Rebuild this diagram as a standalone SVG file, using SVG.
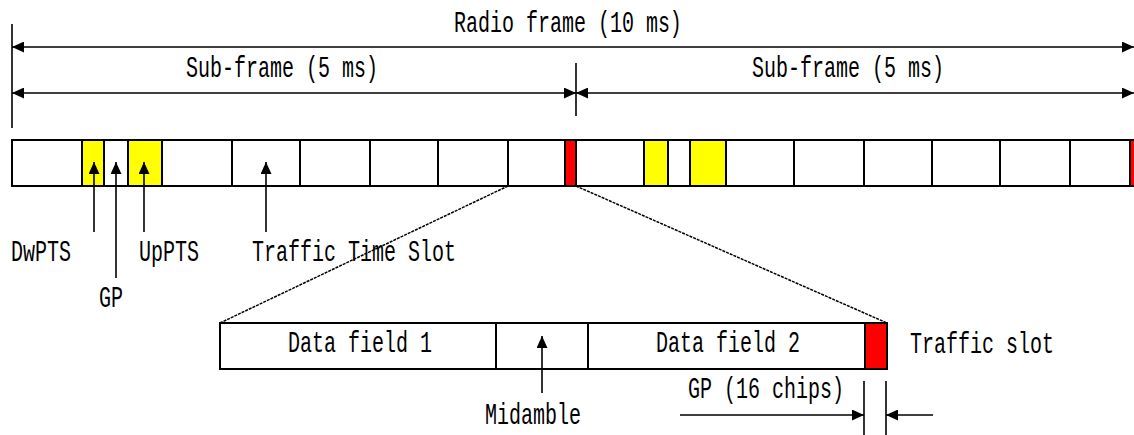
<svg xmlns="http://www.w3.org/2000/svg" width="1134" height="435" viewBox="0 0 1134 435">
<style>
.t{font-family:"Liberation Mono","Courier New",monospace;font-size:20px;fill:#000}
.box{stroke:#000;stroke-width:2}
.w{fill:#fff}
.y{fill:#ffff00}
.r{fill:#ff0000}
.ln{stroke:#000;stroke-width:1.6;fill:none}
.ar{stroke:#000;stroke-width:1.6;fill:none;marker-end:url(#ah)}
.ar2{stroke:#000;stroke-width:1.6;fill:none;marker-start:url(#ah);marker-end:url(#ah)}
.dash{stroke:#000;stroke-width:1.5;fill:none;stroke-dasharray:3 1}
</style>
<defs>
<marker id="ah" markerUnits="userSpaceOnUse" markerWidth="12" markerHeight="11" refX="12" refY="5.5" orient="auto-start-reverse" viewBox="0 0 12 11">
<path d="M0,0 L12,5.5 L0,11 z" fill="#000"/>
</marker>
</defs>
<rect width="1134" height="435" fill="#fff"/>

<g id="radio-frame-bar">
<g id="s0"><rect class="box w" x="12" y="140" width="70" height="46"/></g>
<g id="dwpts"><rect class="box y" x="82" y="140" width="22" height="46"/></g>
<g id="gp1"><rect class="box w" x="104" y="140" width="24" height="46"/></g>
<g id="uppts"><rect class="box y" x="128" y="140" width="34" height="46"/></g>
<g id="ts1"><rect class="box w" x="162" y="140" width="70" height="46"/></g>
<g id="ts2"><rect class="box w" x="232" y="140" width="68" height="46"/></g>
<g id="ts3"><rect class="box w" x="300" y="140" width="70" height="46"/></g>
<g id="ts4"><rect class="box w" x="370" y="140" width="68" height="46"/></g>
<g id="ts5"><rect class="box w" x="438" y="140" width="70" height="46"/></g>
<g id="ts6"><rect class="box w" x="508" y="140" width="57" height="46"/></g>
<g id="red1"><rect class="box r" x="565" y="140" width="11" height="46"/></g>
<g id="s0b"><rect class="box w" x="576" y="140" width="68" height="46"/></g>
<g id="dwpts2"><rect class="box y" x="644" y="140" width="24" height="46"/></g>
<g id="gp2"><rect class="box w" x="668" y="140" width="22" height="46"/></g>
<g id="uppts2"><rect class="box y" x="690" y="140" width="36" height="46"/></g>
<g id="ts1b"><rect class="box w" x="726" y="140" width="68" height="46"/></g>
<g id="ts2b"><rect class="box w" x="794" y="140" width="70" height="46"/></g>
<g id="ts3b"><rect class="box w" x="864" y="140" width="68" height="46"/></g>
<g id="ts4b"><rect class="box w" x="932" y="140" width="68" height="46"/></g>
<g id="ts5b"><rect class="box w" x="1000" y="140" width="70" height="46"/></g>
<g id="ts6b"><rect class="box w" x="1070" y="140" width="60" height="46"/></g>
<g id="red2"><rect class="box r" x="1130" y="140" width="10" height="46"/></g>
</g>

<g id="traffic-slot-detail">
<g id="data1"><rect class="box w" x="220" y="323" width="276" height="46"/>
<text class="t" transform="translate(288,352) scale(1,1.45)">Data field 1</text></g>
<g id="midamble"><rect class="box w" x="496" y="323" width="92" height="46"/></g>
<g id="data2"><rect class="box w" x="588" y="323" width="277" height="46"/>
<text class="t" transform="translate(656,352) scale(1,1.45)">Data field 2</text></g>
<g id="gp-slot"><rect class="box r" x="865" y="323" width="22" height="46"/></g>
</g>

<g id="labels">
<text class="t" transform="translate(454,32) scale(1,1.45)">Radio frame (10 ms)</text>
<text class="t" transform="translate(186,77) scale(1,1.45)">Sub-frame (5 ms)</text>
<text class="t" transform="translate(752,77) scale(1,1.45)">Sub-frame (5 ms)</text>
<text class="t" transform="translate(11,261) scale(1,1.45)">DwPTS</text>
<text class="t" transform="translate(99,307) scale(1,1.45)">GP</text>
<text class="t" transform="translate(139,261) scale(1,1.45)">UpPTS</text>
<text class="t" transform="translate(252,261) scale(1,1.45)">Traffic Time Slot</text>
<text class="t" transform="translate(485,424) scale(1,1.45)">Midamble</text>
<text class="t" transform="translate(910,353) scale(1,1.45)">Traffic slot</text>
<text class="t" transform="translate(688,398) scale(1,1.45)">GP (16 chips)</text>
</g>

<g id="connectors">
<line class="ln" x1="12" y1="24" x2="12" y2="128"/>
<line class="ar2" x1="12" y1="47" x2="1134" y2="47"/>
<line class="ar2" x1="12" y1="93" x2="576" y2="93"/>
<line class="ar2" x1="576" y1="93" x2="1134" y2="93"/>
<line class="ln" x1="576" y1="63" x2="576" y2="116"/>
<line class="ar" x1="94" y1="232" x2="94" y2="162"/>
<line class="ar" x1="116" y1="278" x2="116" y2="162"/>
<line class="ar" x1="144" y1="232" x2="144" y2="162"/>
<line class="ar" x1="266" y1="232" x2="266" y2="162"/>
<line class="ar" x1="542" y1="393" x2="542" y2="336"/>
<line class="dash" x1="508" y1="186" x2="220" y2="323"/>
<line class="dash" x1="576" y1="186" x2="887" y2="323"/>
<line class="ln" x1="864" y1="381" x2="864" y2="435"/>
<line class="ln" x1="886" y1="381" x2="886" y2="435"/>
<line class="ar" x1="680" y1="415" x2="864" y2="415"/>
<line class="ar" x1="933" y1="415" x2="886" y2="415"/>
</g>
</svg>
